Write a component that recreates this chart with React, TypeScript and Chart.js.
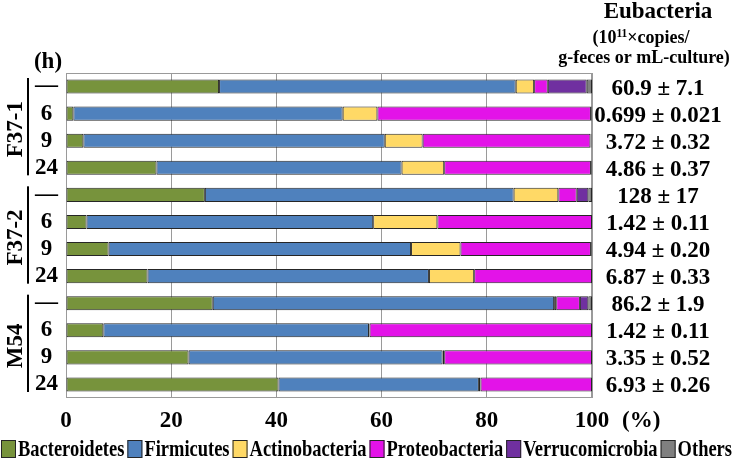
import { useEffect, useRef } from "react";
import { Chart, registerables } from "chart.js";

Chart.register(...registerables);

const FONT = '"Liberation Serif", "Times New Roman", serif';

const timePoints = ["—", "6", "9", "24", "—", "6", "9", "24", "—", "6", "9", "24"];
const groups = ["F37-1", "F37-2", "M54"];
const seriesNames = ["Bacteroidetes", "Firmicutes", "Actinobacteria", "Proteobacteria", "Verrucomicrobia", "Others"];
const seriesColors = ["#77933C", "#4F81BD", "#FFD966", "#E313E8", "#7030A0", "#808080"];

const bacteroidetes = [29.1, 1.4, 3.3, 17.2, 26.4, 3.9, 8.1, 15.5, 27.9, 7.1, 23.3, 40.4];
const firmicutes = [56.4, 51.2, 57.3, 46.6, 58.7, 54.5, 57.5, 53.5, 64.9, 50.5, 48.3, 38.1];
const actinobacteria = [3.5, 6.6, 7.2, 8.1, 8.5, 12.2, 9.4, 8.6, 0.4, 0.1, 0.3, 0.3];
const proteobacteria = [2.6, 40.6, 31.9, 27.9, 3.5, 29.4, 24.8, 22.4, 4.5, 42.3, 28.1, 21.2];
const verrucomicrobia = [7.4, 0.1, 0.1, 0.1, 2.2, 0, 0.1, 0, 1.6, 0, 0, 0];
const others = [1.0, 0.1, 0.1, 0.1, 0.7, 0, 0.1, 0, 0.7, 0, 0, 0];

const eubacteria = [
  "60.9 ± 7.1", "0.699 ± 0.021", "3.72 ± 0.32", "4.86 ± 0.37",
  "128 ± 17", "1.42 ± 0.11", "4.94 ± 0.20", "6.87 ± 0.33",
  "86.2 ± 1.9", "1.42 ± 0.11", "3.35 ± 0.52", "6.93 ± 0.26",
];

const xTickStep = 20;
const xMin = 0;
const xMax = 100;

const seriesValues = [bacteroidetes, firmicutes, actinobacteria, proteobacteria, verrucomicrobia, others];

const textPlugin = {
  id: "customTexts",
  beforeDatasetsDraw(chart: any) {
    const { ctx, chartArea: a } = chart;
    ctx.save();
    ctx.strokeStyle = "#9a9a9a";
    ctx.lineWidth = 1;
    ctx.strokeRect(a.left + 0.5, a.top + 0.5, a.right - a.left - 1, a.bottom - a.top - 1);
    ctx.restore();
  },
  afterDraw(chart: any) {
    const { ctx, chartArea: a } = chart;
    const ys = chart.scales.y;
    const rowH = (a.bottom - a.top) / timePoints.length;
    ctx.save();
    ctx.fillStyle = "#000";
    ctx.textBaseline = "alphabetic";

    // (h)
    ctx.font = `bold 23px ${FONT}`;
    ctx.textAlign = "center";
    ctx.fillText("(h)", 48, 68);

    // group labels + bars
    groups.forEach((g, gi) => {
      const first = gi * 4;
      const last = gi * 4 + 3;
      const top = ys.getPixelForValue(first) - rowH / 2;
      const bottom = ys.getPixelForValue(last) + rowH / 2;
      ctx.fillRect(27, top + 5, 2, bottom - top - 11);
      ctx.save();
      ctx.translate(22, (top + bottom) / 2 + 2);
      ctx.rotate(-Math.PI / 2);
      ctx.font = `bold 23px ${FONT}`;
      ctx.textAlign = "center";
      ctx.fillText(g, 0, 0);
      ctx.restore();
    });

    // eubacteria values
    ctx.font = `bold 23px ${FONT}`;
    ctx.textAlign = "center";
    eubacteria.forEach((v, i) => {
      ctx.fillText(v, 658, ys.getPixelForValue(i) + 8);
    });

    // header
    ctx.font = `bold 23px ${FONT}`;
    ctx.fillText("Eubacteria", 658, 18);
    ctx.textAlign = "left";
    const big = `bold 18px ${FONT}`;
    const small = `bold 11.5px ${FONT}`;
    ctx.font = big;
    const w1 = ctx.measureText("(10").width;
    const w3 = ctx.measureText("×copies/").width;
    ctx.font = small;
    const w2 = ctx.measureText("11").width;
    let x = 641 - (w1 + w2 + w3) / 2;
    ctx.font = big;
    ctx.fillText("(10", x, 43);
    x += w1;
    ctx.font = small;
    ctx.fillText("11", x, 37);
    x += w2;
    ctx.font = big;
    ctx.fillText("×copies/", x, 43);
    ctx.textAlign = "center";
    ctx.fillText("g-feces or mL-culture)", 644, 63);

    // (%)
    ctx.font = `bold 23px ${FONT}`;
    ctx.textAlign = "left";
    ctx.fillText("(%)", a.right + 30, 427);

    // legend
    ctx.font = `bold 23px ${FONT}`;
    const widths = seriesNames.map((n) => ctx.measureText(n).width);
    const sumW = widths.reduce((s, w) => s + w, 0);
    const scale = (732 - 1 - 6 * 17 - 5 * 3) / sumW;
    let lx = 1;
    seriesNames.forEach((n, i) => {
      ctx.fillStyle = seriesColors[i];
      ctx.fillRect(lx, 440, 15, 18);
      ctx.strokeStyle = "#262626";
      ctx.lineWidth = 1;
      ctx.strokeRect(lx + 0.5, 440.5, 14, 17);
      ctx.fillStyle = "#000";
      ctx.save();
      ctx.translate(lx + 17, 456);
      ctx.scale(scale, 1);
      ctx.textAlign = "left";
      ctx.fillText(n, 0, 0);
      ctx.restore();
      lx += 17 + widths[i] * scale + 3;
    });

    ctx.restore();
  },
};

export default function App() {
  const canvasRef = useRef<HTMLCanvasElement | null>(null);

  useEffect(() => {
    const canvas = canvasRef.current;
    if (!canvas) return;
    const chart = new Chart(canvas, {
      type: "bar",
      data: {
        labels: timePoints,
        datasets: seriesNames.map((name, i) => ({
          label: name,
          data: seriesValues[i],
          backgroundColor: seriesColors[i],
          borderColor: "#262626",
          borderWidth: 1,
          borderSkipped: false,
          barPercentage: 0.52,
          categoryPercentage: 1,
        })),
      },
      options: {
        indexAxis: "y",
        responsive: false,
        animation: false,
        devicePixelRatio: 1,
        layout: { padding: { top: 73, right: 141, left: 0, bottom: 0 } },
        plugins: { legend: { display: false }, tooltip: { enabled: false } },
        scales: {
          x: {
            stacked: true,
            min: xMin,
            max: xMax,
            ticks: {
              stepSize: xTickStep,
              color: "#000",
              padding: 9,
              font: { family: FONT, size: 23, weight: "bold" },
            },
            grid: { color: "#9a9a9a", drawTicks: false },
            border: { display: false },
            afterFit: (s: any) => {
              s.height = 63;
            },
          },
          y: {
            stacked: true,
            ticks: {
              color: "#000",
              padding: 8,
              autoSkip: false,
              crossAlign: "center",
              font: { family: FONT, size: 23, weight: "bold" },
            },
            grid: { display: false, drawTicks: false },
            border: { display: false },
            afterFit: (s: any) => {
              s.width = 66;
            },
          },
        },
      },
      plugins: [textPlugin],
    } as any);
    return () => chart.destroy();
  }, []);

  return (
    <div style={{ position: "fixed", left: 0, top: 0, width: 733, height: 461, background: "#fff" }}>
      <canvas ref={canvasRef} width={733} height={461} style={{ display: "block" }} />
    </div>
  );
}
